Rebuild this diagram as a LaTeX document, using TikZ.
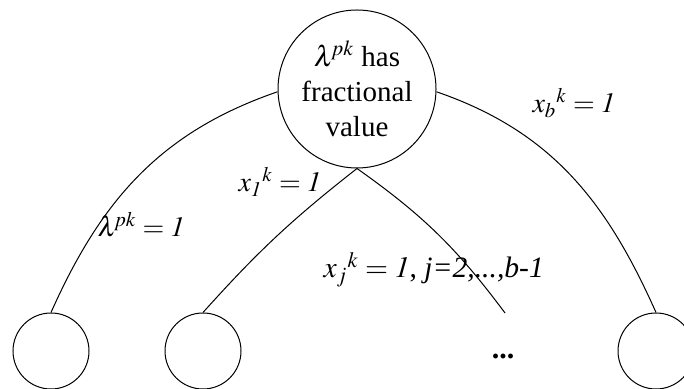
\documentclass[tikz,border=0pt]{standalone}
\usepackage{mathptmx}
\usepackage{fontspec}
\setmainfont{Liberation Serif}

\begin{document}
\begin{tikzpicture}[x=0.5pt,y=0.5pt,line width=0.5pt,
    root/.style={draw,circle,inner sep=0pt,minimum size=79pt,align=center,
      font=\fontsize{14.5}{17.5}\selectfont},
    leaf/.style={draw,circle,inner sep=0pt,minimum size=38pt},
    lbl/.style={anchor=base west,inner sep=0pt,font=\fontsize{14}{16}\selectfont}
  ]
  \useasboundingbox (0,0) rectangle (684,389);

  \node[root] (top) at (357,300) {$\lambda^{\!pk}$ has\\fractional\\value};
  \node[leaf] (c1) at (51,38) {};
  \node[leaf] (c2) at (203,38) {};
  \node[leaf] (cb) at (656,38) {};
  \coordinate (cj) at (505,76);
  \node[font=\bfseries\fontsize{15}{17}\selectfont] (dots) at (503,33) {...};

  % branches
  \draw (top.182) to[out=199,in=66] (c1.north);
  \draw (top.south) to[bend right=5] (c2.north);
  \draw (top.south) to[bend left=9] (cj);
  \draw (top.-2) to[out=-19,in=114] (cb.north);

  % branch labels
  \node[lbl] (l1) at (97,152) {$\lambda^{\!pk} = \mathit{1}$};
  \node[lbl] (l2) at (238,197) {$x_{\mathit{1}}{}^{k} = \mathit{1}$};
  \node[lbl,font=\fontsize{14.8}{17}\selectfont] (l3) at (323,111)
    {$x_{j}{}^{k} = \mathit{1}$, \textit{j=2,...,b-1}};
  \node[lbl] (l4) at (532,276) {$x_{b}{}^{k} = \mathit{1}$};
\end{tikzpicture}
\end{document}
